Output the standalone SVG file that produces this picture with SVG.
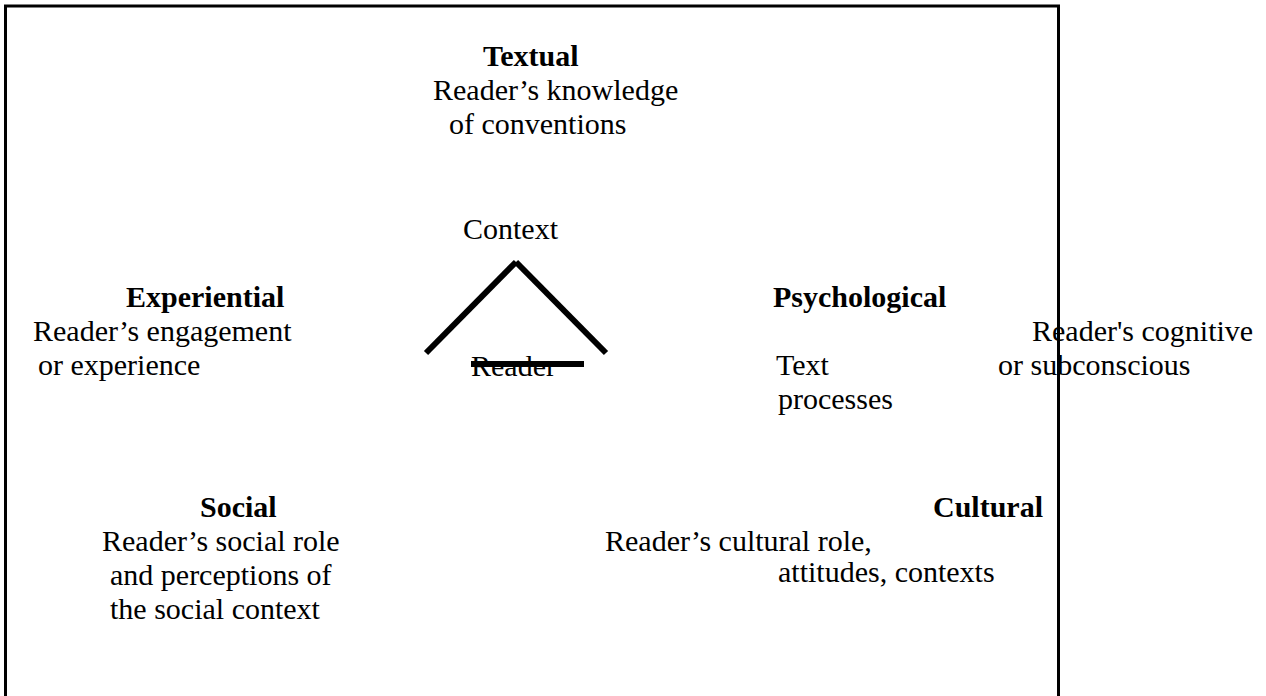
<svg xmlns="http://www.w3.org/2000/svg" width="1266" height="696" viewBox="0 0 1266 696">
  <style>
    text { font-family: "Liberation Serif", "Times New Roman", serif; font-size: 30px; fill: #000; }
    .h { font-weight: bold; }
    .frame { fill: none; stroke: #000; stroke-width: 3; }
    .edge { stroke: #000; stroke-width: 6; stroke-linecap: butt; fill: none; }
  </style>
  <rect width="1266" height="696" fill="#fff"/>

  <!-- outer frame, open at the bottom -->
  <path class="frame" d="M5.5,696 V6 H1058.5 V696"/>

  <g id="textual">
    <text class="h" x="483" y="66">Textual</text>
    <text x="433" y="100">Reader’s knowledge</text>
    <text x="449" y="134">of conventions</text>
  </g>

  <g id="context">
    <text x="463" y="239">Context</text>
  </g>

  <g id="reader">
    <text x="471" y="376">Reader</text>
  </g>

  <g id="experiential">
    <text class="h" x="126" y="307">Experiential</text>
    <text x="33" y="341">Reader’s engagement</text>
    <text x="38" y="375">or experience</text>
  </g>

  <g id="psychological">
    <text class="h" x="773" y="307">Psychological</text>
    <text x="1032" y="341">Reader's cognitive</text>
    <text x="776" y="375">Text</text>
    <text x="998" y="375">or subconscious</text>
    <text x="778" y="409">processes</text>
  </g>

  <g id="social">
    <text class="h" x="200" y="517">Social</text>
    <text x="102" y="551">Reader’s social role</text>
    <text x="110" y="585">and perceptions of</text>
    <text x="110" y="619">the social context</text>
  </g>

  <g id="cultural">
    <text class="h" x="933" y="517">Cultural</text>
    <text x="605" y="551">Reader’s cultural role,</text>
    <text x="778" y="582">attitudes, contexts</text>
  </g>

  <!-- roof-shaped connector lines around the reader -->
  <g id="connectors">
    <line class="edge" x1="426" y1="353" x2="516" y2="262"/>
    <line class="edge" x1="516" y1="262" x2="606" y2="353"/>
    <line class="edge" x1="471" y1="364" x2="584" y2="364" stroke-width="5"/>
  </g>
</svg>
